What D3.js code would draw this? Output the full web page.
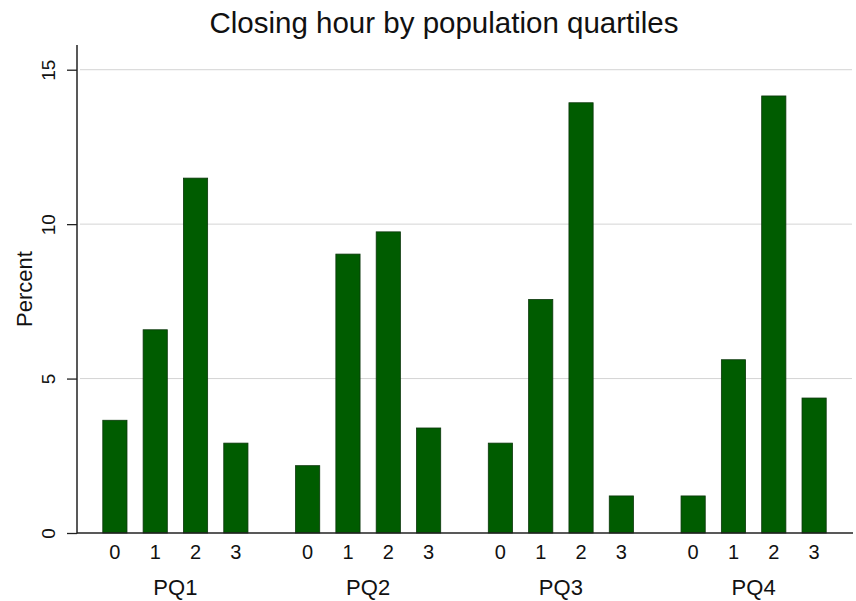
<!DOCTYPE html>
<html>
<head>
<meta charset="utf-8">
<script src="https://cdn.jsdelivr.net/npm/d3@7"></script>
<style>
  html, body { margin: 0; padding: 0; background: #fff; }
  svg { display: block; font-family: "Liberation Sans", Arial, sans-serif; }
</style>
</head>
<body>
<svg id="chart" width="856" height="601"></svg>
<script>
const title = "Closing hour by population quartiles";
const yLabel = "Percent";
const groups = ["PQ1", "PQ2", "PQ3", "PQ4"];
const hours = ["0", "1", "2", "3"];
const pq1 = [3.65, 6.58, 11.49, 2.91];
const pq2 = [2.18, 9.03, 9.75, 3.40];
const pq3 = [2.91, 7.56, 13.93, 1.20];
const pq4 = [1.20, 5.61, 14.15, 4.37];
const yTicks = [0, 5, 10, 15];

(function () {
const series = [pq1, pq2, pq3, pq4];
const data = [];
groups.forEach((g, gi) => hours.forEach((h, hi) => data.push({ group: g, hour: h, value: series[gi][hi] })));

const svg = d3.select("#chart");
const mLeft = 77, mRight = 853, mTop = 45, mBottom = 533;

const x0 = d3.scaleBand().domain(groups).range([79, 850]).paddingInner(0).paddingOuter(0);
const x1 = d3.scaleBand().domain(hours).range([0, x0.bandwidth()]).paddingInner(0.4).paddingOuter(0.59);
const y = d3.scaleLinear().domain([0, 15.8]).range([mBottom, mTop]);

// grid
svg.append("g").selectAll("line").data(yTicks.filter(d => d > 0)).join("line")
  .attr("x1", mLeft + 3).attr("x2", mRight - 1)
  .attr("y1", d => y(d)).attr("y2", d => y(d))
  .attr("stroke", "#d4d4d4").attr("stroke-width", 1);

// bars
svg.append("g").selectAll("rect").data(data).join("rect")
  .attr("x", d => x0(d.group) + x1(d.hour))
  .attr("width", x1.bandwidth())
  .attr("y", d => y(d.value))
  .attr("height", d => y(0) - y(d.value))
  .attr("fill", "#005c00")
  .attr("stroke", "#0b360b").attr("stroke-width", 0.8);

// y axis
const yAxis = d3.axisLeft(y).tickValues(yTicks).tickSize(10).tickPadding(8).tickFormat(d3.format("d"));
const ya = svg.append("g").attr("transform", `translate(${mLeft},0)`).call(yAxis);
ya.attr("font-size", null).attr("font-family", null);
ya.select(".domain").remove();
ya.append("line").attr("x1", 0).attr("x2", 0).attr("y1", mTop).attr("y2", mBottom + 0.5)
  .attr("stroke", "#222").attr("stroke-width", 1.5);
ya.selectAll(".tick line").attr("stroke", "#222").attr("stroke-width", 1.3);
ya.selectAll(".tick text")
  .attr("font-size", 19).attr("fill", "#111")
  .attr("x", null).attr("dy", null)
  .attr("transform", "translate(-22,0) rotate(-90)")
  .attr("text-anchor", "middle");

// x axis line
svg.append("line").attr("x1", mLeft).attr("x2", mRight).attr("y1", mBottom).attr("y2", mBottom)
  .attr("stroke", "#222").attr("stroke-width", 1.5);

// hour labels
svg.append("g").selectAll("text").data(data).join("text")
  .attr("x", d => x0(d.group) + x1(d.hour) + x1.bandwidth() / 2)
  .attr("y", 559)
  .attr("text-anchor", "middle").attr("font-size", 20).attr("fill", "#111")
  .text(d => d.hour);

// group labels
svg.append("g").selectAll("text").data(groups).join("text")
  .attr("x", d => x0(d) + x0.bandwidth() / 2)
  .attr("y", 595)
  .attr("text-anchor", "middle").attr("font-size", 22).attr("fill", "#111")
  .text(d => d);

// y label
svg.append("text").attr("transform", "translate(32,289) rotate(-90)")
  .attr("text-anchor", "middle").attr("font-size", 22).attr("fill", "#111").text(yLabel);

// title
svg.append("text").attr("x", 444).attr("y", 33).attr("text-anchor", "middle")
  .attr("font-size", 29.5).attr("fill", "#111").text(title);
})();
</script>
</body>
</html>
